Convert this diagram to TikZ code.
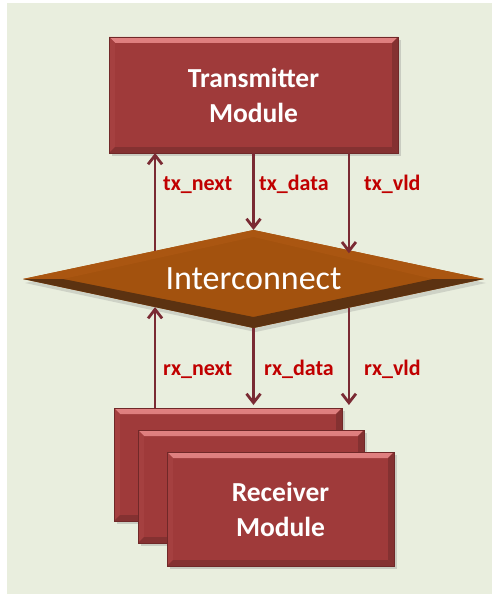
\documentclass[tikz,border=0pt]{standalone}
\usepackage{fontspec}
\setmainfont{Carlito}
\usetikzlibrary{arrows.meta,shapes.geometric,shadows,calc}

\definecolor{panel}{HTML}{E9EEDE}
\definecolor{boxred}{HTML}{9F3A3A}
\definecolor{bevhi}{HTML}{E08080}
\definecolor{bevlo}{HTML}{B54A4A}
\definecolor{bevside}{HTML}{A54040}
\definecolor{bevdark}{HTML}{843131}
\definecolor{boxline}{HTML}{702828}
\definecolor{icface}{HTML}{A3520E}
\definecolor{ictop}{HTML}{AA5611}
\definecolor{icdark}{HTML}{5C3211}
\definecolor{wire}{HTML}{7A2A33}
\definecolor{sigtext}{HTML}{C00000}

\tikzset{
  module/.style={rectangle, fill=boxred, draw=boxline, line width=0.6pt,
    inner sep=0pt, outer sep=0pt, text=white, align=center,
    font=\bfseries\fontsize{27.5}{35}\selectfont,
    drop shadow={shadow xshift=3pt, shadow yshift=-3pt, opacity=0.3},
    path picture={
      % raised bevel: light top, lit left edge, dark right and bottom
      \shade[top color=bevhi, bottom color=bevlo]
        (path picture bounding box.north west) -- (path picture bounding box.north east)
        -- ($(path picture bounding box.north east)+(-6,6)$)
        -- ($(path picture bounding box.north west)+(6,6)$) -- cycle;
      \fill[bevside]
        (path picture bounding box.north west) -- ($(path picture bounding box.north west)+(6,6)$)
        -- ($(path picture bounding box.south west)+(6,-6)$)
        -- (path picture bounding box.south west) -- cycle;
      \fill[bevdark]
        (path picture bounding box.north east) -- ($(path picture bounding box.north east)+(-6,6)$)
        -- ($(path picture bounding box.south east)+(-6,-6)$)
        -- (path picture bounding box.south east) -- cycle;
      \fill[bevdark]
        (path picture bounding box.south west) -- ($(path picture bounding box.south west)+(6,-6)$)
        -- ($(path picture bounding box.south east)+(-6,-6)$)
        -- (path picture bounding box.south east) -- cycle;
    }},
  hub/.style={diamond, aspect=4.7, fill=icface, inner sep=0pt, outer sep=0pt,
    minimum width=461pt, minimum height=98pt, text=white,
    font=\fontsize{34}{40}\selectfont,
    drop shadow={shadow xshift=2pt, shadow yshift=-4pt, opacity=0.25},
    path picture={
      \fill[ictop]
        (path picture bounding box.west) -- (path picture bounding box.north)
        -- (path picture bounding box.east) -- ($(path picture bounding box.east)+(-51,0)$)
        -- ($(path picture bounding box.north)+(0,7)$)
        -- ($(path picture bounding box.west)+(40,0)$) -- cycle;
      \fill[icdark]
        (path picture bounding box.west) -- ($(path picture bounding box.west)+(40,0)$)
        -- ($(path picture bounding box.south)+(0,-11)$)
        -- ($(path picture bounding box.east)+(-51,0)$)
        -- (path picture bounding box.east) -- (path picture bounding box.south) -- cycle;
    }},
  sig/.style={draw=wire, line width=2.8pt, -{Straight Barb[length=9pt,width=14pt]}},
  siglabel/.style={anchor=base west, text=sigtext, inner sep=0pt,
    font=\bfseries\fontsize{22}{24}\selectfont},
}

\begin{document}
\begin{tikzpicture}[x=1pt, y=-1pt]
  \useasboundingbox (0,0) rectangle (492,594);
  \fill[panel] (7,3) rectangle (492,594);

  % blocks
  \node[module, minimum width=289pt, minimum height=116pt] (tx) at (253.5,95)
    {Transmitter\\Module};
  \node[hub] (ic) at (253.5,279) {Interconnect};
  \node[module, minimum width=228pt, minimum height=113pt] (rx1) at (228,464.5) {};
  \node[module, minimum width=226pt, minimum height=113pt] (rx2) at (251,486.5) {};
  \node[module, minimum width=227pt, minimum height=114pt] (rx3) at (280.5,509)
    {Receiver\\Module};

  % points where the signals meet the interconnect edges
  \coordinate (tnA) at ($(ic.west)!0.573!(ic.north)$);
  \coordinate (tvB) at ($(ic.north)!0.414!(ic.east)$);
  \coordinate (rnA) at ($(ic.west)!0.573!(ic.south)$);
  \coordinate (rvB) at ($(ic.south)!0.414!(ic.east)$);

  % transmitter side
  \draw[sig] (tnA) -- (tnA |- tx.south);
  \draw[sig] (tx.south) -- (ic.north);
  \draw[sig] (tvB |- tx.south) -- ($(tvB)+(0,3)$);

  % receiver side
  \draw[sig] (rnA |- rx1.north) -- (rnA);
  \draw[sig] (ic.south) -- ($(ic.south |- rx1.north)+(0,-3)$);
  \draw[sig] (rvB) -- ($(rvB |- rx1.north)+(0,-3)$);

  % signal names
  \node[siglabel] (l1) at (163,190) {tx\_next};
  \node[siglabel] (l2) at (259,190) {tx\_data};
  \node[siglabel] (l3) at (364,190) {tx\_vld};
  \node[siglabel] (l4) at (163,375) {rx\_next};
  \node[siglabel] (l5) at (264,375) {rx\_data};
  \node[siglabel] (l6) at (364,375) {rx\_vld};
\end{tikzpicture}
\end{document}
